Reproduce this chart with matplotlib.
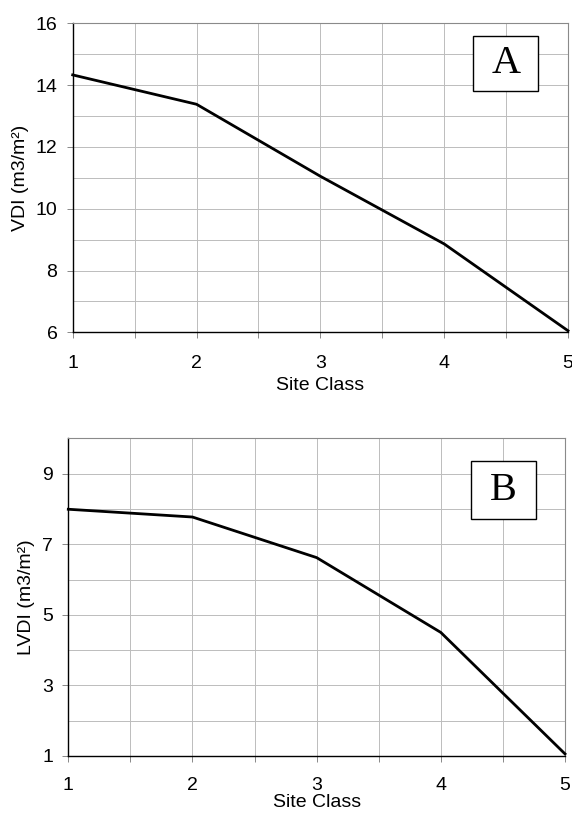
import matplotlib
matplotlib.use("Agg")
import matplotlib.pyplot as plt
from matplotlib.patches import Rectangle
from matplotlib.ticker import MultipleLocator

plt.rcParams['font.family'] = ['Liberation Sans', 'DejaVu Sans']

site_class = [1, 2, 3, 4, 5]
vdi = [14.33, 13.38, 11.05, 8.86, 6.05]
lvdi = [7.99, 7.77, 6.62, 4.50, 1.06]

x_ticks = [1, 2, 3, 4, 5]
a_yticks = [6, 8, 10, 12, 14, 16]
b_yticks = [1, 3, 5, 7, 9]

fig = plt.figure(figsize=(5.72, 8.16), dpi=100)

def style_axes(ax, yticks, ylim, ylabel, letter, box, xpad, xlabelpad):
    ax.set_xlim(1, 5)
    ax.set_ylim(*ylim)
    ax.set_xticks(x_ticks)
    ax.xaxis.set_minor_locator(MultipleLocator(0.5))
    ax.set_yticks(yticks)
    ax.yaxis.set_minor_locator(MultipleLocator(1))
    ax.grid(True, which='both', color='#bcbcbc', linewidth=0.7)
    ax.set_axisbelow(True)
    ax.tick_params(axis='x', which='both', direction='out', length=4,
                   width=0.7, color='#888888', pad=xpad, labelsize=14)
    ax.tick_params(axis='y', which='major', direction='out', length=4,
                   width=0.7, color='#888888', pad=7, labelsize=14)
    ax.tick_params(axis='y', which='minor', length=0)
    for s in ['top', 'right']:
        ax.spines[s].set_color('#8a8a8a')
        ax.spines[s].set_linewidth(0.8)
    for s in ['left', 'bottom']:
        ax.spines[s].set_color('black')
        ax.spines[s].set_linewidth(1.0)
    ax.set_xlabel('Site Class', fontsize=14, labelpad=xlabelpad)
    ax.set_ylabel(ylabel, fontsize=14, labelpad=5)
    x0, y0, w, h = box
    ax.add_patch(Rectangle((x0, y0), w, h, transform=ax.transAxes,
                           facecolor='white', edgecolor='black',
                           linewidth=1.0, zorder=5))
    ax.text(x0 + w / 2, y0 + h / 2, letter, transform=ax.transAxes,
            ha='center', va='center', fontsize=29,
            family=['Liberation Serif', 'DejaVu Serif'], zorder=6)

axA = fig.add_axes([72.7 / 572, 1 - 332.3 / 816, 495.3 / 572, 309 / 816])
axA.plot(site_class, vdi, color='black', linewidth=2.0, clip_on=False, zorder=4)
style_axes(axA, a_yticks, (6, 16), 'VDI (m3/m²)', 'A',
           (0.809, 0.782, 0.131, 0.177), 12, 4)

axB = fig.add_axes([68.3 / 572, 1 - 756 / 816, 496.7 / 572, 317.7 / 816])
axB.plot(site_class, lvdi, color='black', linewidth=2.0, clip_on=False, zorder=4)
style_axes(axB, b_yticks, (1, 10), 'LVDI (m3/m²)', 'B',
           (0.811, 0.745, 0.131, 0.1835), 11, 0)

fig.savefig('out.png', dpi=100, facecolor='white')
